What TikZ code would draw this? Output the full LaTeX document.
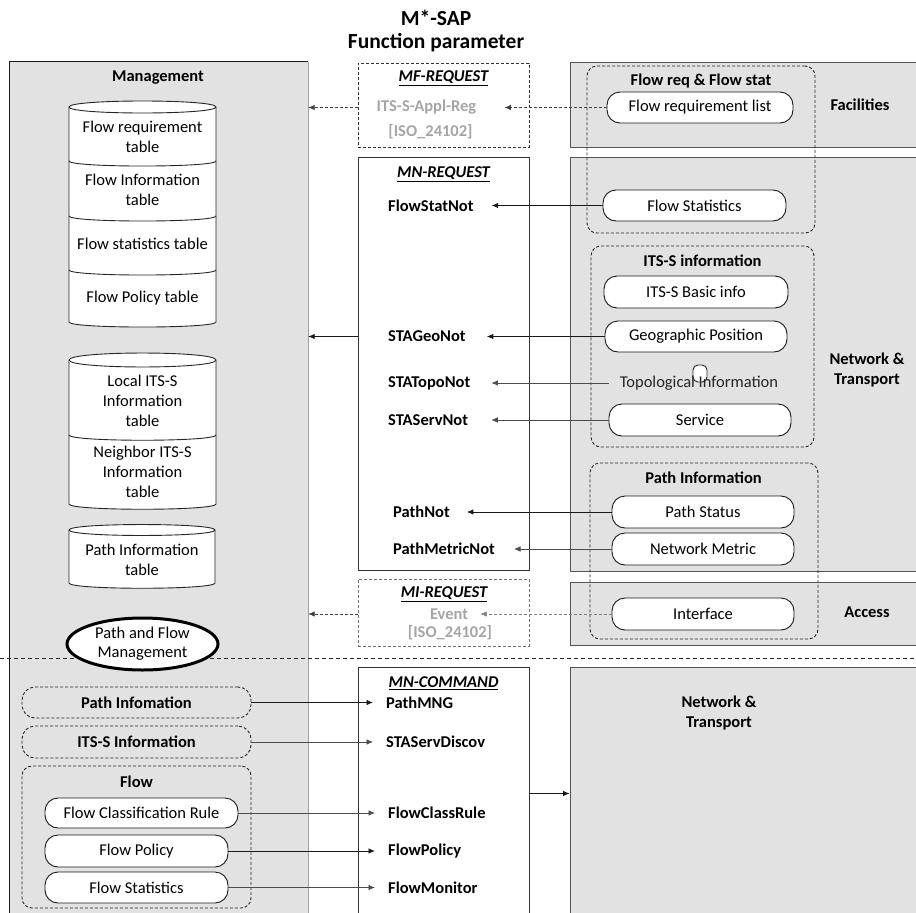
\documentclass[tikz,border=0pt]{standalone}
\usepackage{fontspec}
\setmainfont{Carlito}
\usetikzlibrary{arrows.meta,shapes.geometric}
\definecolor{pgray}{RGB}{226,226,226}
\definecolor{tgray}{RGB}{165,165,165}
\definecolor{bgray}{RGB}{85,85,85}
\definecolor{lgray}{RGB}{160,160,160}
\begin{document}
\begin{tikzpicture}[x=1pt,y=-1pt,
  font=\fontsize{16.5}{20}\selectfont,
  panel/.style={fill=pgray,draw=bgray,line width=0.9pt,inner sep=0pt},
  midbox/.style={fill=white,draw=black!80,line width=0.9pt,inner sep=0pt},
  dbox/.style={draw=black!80,dash pattern=on 3pt off 2pt,line width=0.9pt,inner sep=0pt},
  pill/.style={draw=black!90,fill=white,rounded corners=13pt,inner sep=0pt,align=center,line width=0.9pt},
  grp/.style={draw=black!85,dash pattern=on 3pt off 2pt,rounded corners=10pt,inner sep=0pt,line width=0.9pt},
  ttl/.style={font=\fontsize{16.5}{20}\selectfont\bfseries,inner sep=0pt,align=center},
  ctext/.style={inner sep=0pt,align=center},
  lbl/.style={font=\fontsize{16.5}{20}\selectfont\bfseries,inner sep=0pt,anchor=west},
  hdr/.style={font=\fontsize{16.5}{20}\selectfont\bfseries\itshape,inner sep=0pt},
  gtxt/.style={font=\fontsize{16.5}{20}\selectfont\bfseries,text=tgray,inner sep=0pt},
  arr/.style={-{Latex[length=6.5pt,width=5.5pt]},line width=0.8pt,draw=black!90},
  garr/.style={-{Latex[length=6.5pt,width=5.5pt]},line width=0.7pt,draw=black!70},
  darr/.style={-{Latex[length=6.5pt,width=5.5pt]},line width=0.8pt,draw=black!75,dash pattern=on 3pt off 2pt},
  cyl/.style={fill=white,draw=black!85,line width=0.9pt}
]
\path[use as bounding box,clip] (0,0) rectangle (916,913);

% title
\node[ttl,font=\fontsize{21.5}{22.5}\selectfont\bfseries] (title) at (436,31) {M*-SAP\\Function parameter};

% management panel
\node[fill=pgray,inner sep=0pt,minimum width=298pt,minimum height=858pt] (mgmt) at (159,491) {};
\draw[black!90,line width=0.9pt] (mgmt.south west) -- (mgmt.north west) -- (mgmt.north east);
\draw[lgray,line width=0.9pt] (mgmt.north east) -- (mgmt.south east);
\node[ttl] (mgmtt) at (158,78) {Management};

% right panels
\node[panel,minimum width=350pt,minimum height=85pt] (fac) at (745,104.5) {};
\node[panel,minimum width=350pt,minimum height=414pt] (nt1) at (745,364) {};
\node[panel,minimum width=350pt,minimum height=63pt] (acc) at (745,613.5) {};
\node[panel,minimum width=350pt,minimum height=253pt] (nt2) at (745,793.5) {};
\node[ttl] (fact) at (860,105) {Facilities};
\node[ttl] (nt1t) at (867,370) {Network \&\\Transport};
\node[ttl] (acct) at (867,612) {Access};
\node[ttl] (nt2t) at (719,713) {Network \&\\Transport};

% middle boxes
\node[dbox,minimum width=171pt,minimum height=84pt] (mf) at (443.5,105) {};
\node[midbox,minimum width=171pt,minimum height=413pt] (mnr) at (443.5,363.5) {};
\node[dbox,draw=black!55,minimum width=171pt,minimum height=67pt] (mi) at (443.5,612.5) {};
\node[midbox,minimum width=171pt,minimum height=253pt] (mnc) at (443.5,793.5) {};

\node[hdr] (mft) at (443.5,78) {\underline{MF-REQUEST}};
\node[gtxt] (apr) at (426.5,107.5) {ITS-S-Appl-Reg};
\node[gtxt] (iso1) at (430.5,132) {[ISO\_24102]};
\node[hdr] (mnrt) at (443.5,174) {\underline{MN-REQUEST}};
\node[hdr] (mit) at (444,594) {\underline{MI-REQUEST}};
\node[gtxt] (ev) at (449,614) {Event};
\node[gtxt] (iso2) at (450,633) {[ISO\_24102]};
\node[hdr] (mnct) at (443.5,683) {\underline{MN-COMMAND}};

% groups right
\node[grp,minimum width=228pt,minimum height=167pt] (g1) at (701,149.5) {};
\node[grp,minimum width=223pt,minimum height=201pt] (g2) at (702.5,346.5) {};
\node[grp,minimum width=228pt,minimum height=176pt] (g3) at (704,551) {};
\node[ttl] (g1t) at (701,81) {Flow req \& Flow stat};
\node[ttl] (g2t) at (702.5,261) {ITS-S information};
\node[ttl] (g3t) at (703.5,478) {Path Information};

\node[pill,minimum width=186pt,minimum height=31pt] (frl) at (700,107.5) {Flow requirement list};
\node[pill,minimum width=183pt,minimum height=31pt] (fs) at (694.5,205.5) {Flow Statistics};
\node[pill,minimum width=184pt,minimum height=32pt] (bi) at (696,292) {ITS-S Basic info};
\node[pill,minimum width=182pt,minimum height=31pt] (gp) at (696,336.5) {Geographic Position};
\node[draw=black!85,fill=white,rounded corners=5pt,minimum width=14pt,minimum height=17pt,inner sep=0pt,line width=0.9pt] (bump) at (700,373.5) {};
\node[inner sep=0pt,inner xsep=11pt,text=black!85] (topo) at (699,383) {Topological Information};
\node[pill,minimum width=182pt,minimum height=32pt] (svc) at (700,420) {Service};
\node[pill,minimum width=182pt,minimum height=32pt] (ps) at (703,512) {Path Status};
\node[pill,minimum width=182pt,minimum height=32pt] (nm) at (703,549) {Network Metric};
\node[pill,minimum width=182pt,minimum height=32pt] (ifc) at (703,614) {Interface};

% MN-REQUEST labels
\node[lbl] (fsn) at (388,205.5) {FlowStatNot};
\node[lbl] (sgn) at (388,336.5) {STAGeoNot};
\node[lbl] (stn) at (388,383) {STATopoNot};
\node[lbl] (ssn) at (388,420) {STAServNot};
\node[lbl] (pn) at (393,512) {PathNot};
\node[lbl] (pmn) at (393,549) {PathMetricNot};

% cylinders
\path[cyl] (69,107) -- (69,322) .. controls (69,328.7) and (216,328.7) .. (216,322) -- (216,107) .. controls (216,99) and (69,99) .. (69,107) -- cycle;
\draw[cyl,fill=none] (69,107) .. controls (69,115) and (216,115) .. (216,107);
\draw[cyl,fill=none] (69,161) .. controls (69,167.7) and (216,167.7) .. (216,161);
\draw[cyl,fill=none] (69,216) .. controls (69,222.7) and (216,222.7) .. (216,216);
\draw[cyl,fill=none] (69,270) .. controls (69,276.7) and (216,276.7) .. (216,270);

\path[cyl] (69,360) -- (69,504) .. controls (69,511) and (216,511) .. (216,504) -- (216,360) .. controls (216,350.7) and (69,350.7) .. (69,360) -- cycle;
\draw[cyl,fill=none] (69,360) .. controls (69,369.3) and (216,369.3) .. (216,360);
\draw[cyl,fill=none] (69,435) .. controls (69,442) and (216,442) .. (216,435);

\path[cyl] (69,530) -- (69,583) .. controls (69,590) and (215,590) .. (215,583) -- (215,530) .. controls (215,522.7) and (69,522.7) .. (69,530) -- cycle;
\draw[cyl,fill=none] (69,530) .. controls (69,537.3) and (215,537.3) .. (215,530);

\node[ctext] (c1) at (142.5,137) {Flow requirement\\table};
\node[ctext] (c2) at (142.5,190) {Flow Information\\table};
\node[ctext] (c3) at (142.5,244) {Flow statistics table};
\node[ctext] (c4) at (142.5,298) {Flow Policy table};
\node[ctext] (c5) at (142.5,401) {Local ITS-S\\Information\\table};
\node[ctext] (c6) at (142.5,472) {Neighbor ITS-S\\Information\\table};
\node[ctext] (c7) at (142,560) {Path Information\\table};

% dashed separator
\coordinate (sepl) at (0,658);
\coordinate (sepr) at (916,658);
\draw[black!85,line width=0.9pt,dash pattern=on 4pt off 3pt] (sepl) -- (sepr);

\node[ellipse,draw=black,line width=3pt,fill=white,minimum width=151pt,minimum height=52pt,inner sep=0pt,align=center,font=\fontsize{16.5}{19}\selectfont] (pfm) at (142.5,644) {Path and Flow\\Management};

% bottom-left groups
\node[grp,rounded corners=13pt,minimum width=229pt,minimum height=31pt,font=\fontsize{16.5}{20}\selectfont\bfseries] (pinf) at (136.5,702.5) {Path Infomation};
\node[grp,rounded corners=13pt,minimum width=229pt,minimum height=32pt,font=\fontsize{16.5}{20}\selectfont\bfseries] (itsi) at (136.5,742) {ITS-S Information};
\node[grp,minimum width=229pt,minimum height=142pt] (flowg) at (136.5,837) {};
\node[ttl] (flowt) at (136.5,782) {Flow};
\node[pill,minimum width=193pt,minimum height=30pt] (fcr) at (141.5,813) {Flow Classification Rule};
\node[pill,minimum width=183pt,minimum height=32pt] (fp) at (136.5,851) {Flow Policy};
\node[pill,minimum width=183pt,minimum height=31pt] (fst) at (136.5,887.5) {Flow Statistics};

% MN-COMMAND labels
\node[lbl] (pmng) at (386,702.5) {PathMNG};
\node[lbl] (ssd) at (386,742) {STAServDiscov};
\node[lbl] (fcrl) at (388,813) {FlowClassRule};
\node[lbl] (fpl) at (388,851) {FlowPolicy};
\node[lbl] (fml) at (388,887.5) {FlowMonitor};

% connectors top
\draw[darr] (frl.west) -- ([xshift=28pt]apr.east);
\draw[darr] (mf.west |- apr) -- (mgmt.east |- apr);
\draw[arr] (fs.west) -- ([xshift=18pt]fsn.east);
\draw[arr] (gp.west) -- ([xshift=21pt]sgn.east);
\draw[garr] (topo.west) -- ([xshift=21pt]stn.east);
\draw[garr] (svc.west) -- ([xshift=23pt]ssn.east);
\draw[arr] (ps.west) -- ([xshift=17pt]pn.east);
\draw[garr] (nm.west) -- ([xshift=19pt]pmn.east);
\draw[arr] (mnr.west |- sgn) -- (mgmt.east |- sgn);
\draw[darr,draw=black!50] (ifc.west) -- ([xshift=12pt]ev.east);
\draw[darr] (mi.west |- ev) -- (mgmt.east |- ev);

% connectors bottom
\draw[arr] (pinf.east) -- ([xshift=-13pt]pmng.west);
\draw[garr] (itsi.east) -- ([xshift=-13pt]ssd.west);
\draw[garr] (fcr.east) -- ([xshift=-13pt]fcrl.west);
\draw[arr] (fp.east) -- ([xshift=-13pt]fpl.west);
\draw[garr] (fst.east) -- ([xshift=-13pt]fml.west);
\draw[arr] (mnc.east) -- (mnc.east -| nt2.west);
\end{tikzpicture}
\end{document}
